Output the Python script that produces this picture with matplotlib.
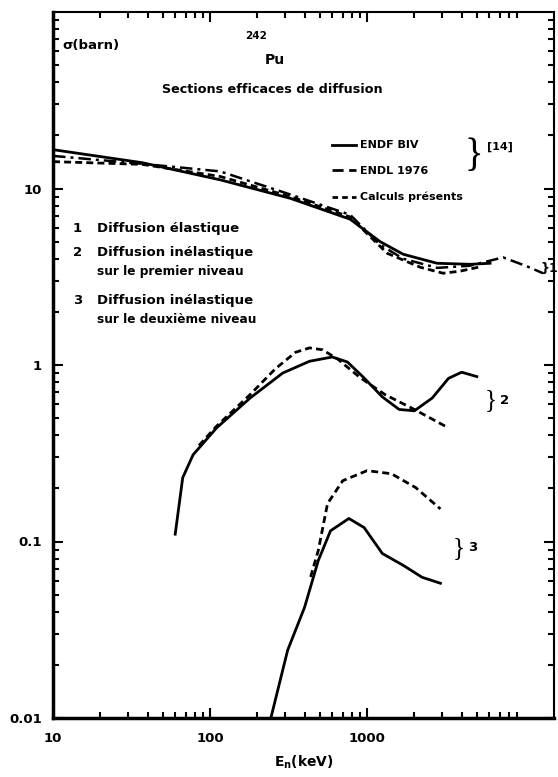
import numpy as np
import matplotlib
matplotlib.use('Agg')
import matplotlib.pyplot as plt
from matplotlib.lines import Line2D
from matplotlib.ticker import FixedLocator, FixedFormatter, LogLocator, NullFormatter

# Elastic scattering (curve 1)
e_el_endf = [10, 37, 116, 324, 780, 1210, 1700, 2790, 4530, 6070]
s_el_endf = [16.6, 14.0, 11.2, 8.8, 6.7, 5.0, 4.24, 3.77, 3.72, 3.77]
e_el_endl = [10, 37, 116, 324, 780, 1210, 1700, 2800, 4500, 7350, 10450, 13200]
s_el_endl = [15.3, 13.8, 12.5, 9.25, 7.1, 4.8, 4.0, 3.55, 3.65, 4.07, 3.62, 3.31]
e_el_calc = [10, 37, 116, 324, 780, 1340, 2180, 3050, 3900, 5250]
s_el_calc = [14.2, 13.7, 11.7, 9.0, 6.9, 4.3, 3.58, 3.31, 3.4, 3.6]

# Inelastic, first level (curve 2)
e_in1_endf = [60, 67, 78, 110, 180, 290, 430, 600, 750, 950, 1250, 1600, 2000, 2600, 3300, 4000, 5000]
s_in1_endf = [0.11, 0.23, 0.31, 0.44, 0.65, 0.90, 1.05, 1.11, 1.04, 0.85, 0.66, 0.56, 0.55, 0.65, 0.84, 0.91, 0.86]
e_in1_calc = [85, 110, 180, 260, 350, 430, 520, 650, 900, 1300, 2000, 3300]
s_in1_calc = [0.35, 0.45, 0.68, 0.95, 1.18, 1.25, 1.22, 1.08, 0.85, 0.68, 0.56, 0.44]

# Inelastic, second level (curve 3)
e_in2_endf = [244, 312, 400, 489, 585, 766, 957, 1251, 1710, 2240, 2930]
s_in2_endf = [0.01, 0.0242, 0.0424, 0.078, 0.115, 0.135, 0.12, 0.0855, 0.073, 0.0627, 0.058]
e_in2_calc = [437, 489, 560, 700, 1000, 1430, 2040, 2930]
s_in2_calc = [0.063, 0.089, 0.164, 0.221, 0.252, 0.242, 0.202, 0.153]

x_ticks = [10, 100, 1000]
x_ticklabels = ['10', '100', '1000']
y_ticks = [0.01, 0.1, 1, 10]
y_ticklabels = ['0.01', '0.1', '1', '10']

plt.rcParams['font.family'] = ['DejaVu Sans']
plt.rcParams['font.weight'] = 'bold'

fig = plt.figure(figsize=(5.58, 7.77), dpi=100)
ax = fig.add_axes([53 / 558, 1 - 718 / 777, 501 / 558, 706 / 777])

solid = dict(color='black', lw=2.0, ls='-')
dashdot = dict(color='black', lw=1.8, ls=(0, (5, 2, 1.2, 2)))
dashed = dict(color='black', lw=2.0, ls=(0, (2.5, 1.5)))

ax.plot(e_el_endf, s_el_endf, **solid)
ax.plot(e_el_endl, s_el_endl, **dashdot)
ax.plot(e_el_calc, s_el_calc, **dashed)
ax.plot(e_in1_endf, s_in1_endf, **solid)
ax.plot(e_in1_calc, s_in1_calc, **dashed)
ax.plot(e_in2_endf, s_in2_endf, **solid)
ax.plot(e_in2_calc, s_in2_calc, **dashed)

ax.set_xscale('log')
ax.set_yscale('log')
ax.set_xlim(10, 15500)
ax.set_ylim(0.01, 100)

ax.xaxis.set_major_locator(FixedLocator(x_ticks))
ax.xaxis.set_major_formatter(FixedFormatter(x_ticklabels))
ax.yaxis.set_major_locator(FixedLocator(y_ticks))
ax.yaxis.set_major_formatter(FixedFormatter(y_ticklabels))
ax.xaxis.set_minor_locator(LogLocator(base=10, subs=np.arange(2, 10)))
ax.yaxis.set_minor_locator(LogLocator(base=10, subs=np.arange(2, 10)))
ax.xaxis.set_minor_formatter(NullFormatter())
ax.yaxis.set_minor_formatter(NullFormatter())
ax.tick_params(which='both', direction='in', top=True, right=True, width=1.5)
ax.tick_params(which='major', length=7, labelsize=9.5)
ax.tick_params(axis='x', which='major', pad=10)
ax.tick_params(axis='y', which='major', pad=8)
ax.tick_params(which='minor', length=4)
for lab in ax.get_xticklabels() + ax.get_yticklabels():
    lab.set_fontweight('bold')

ax.spines['left'].set_linewidth(2.5)
ax.spines['bottom'].set_linewidth(2.5)
ax.spines['top'].set_linewidth(1.5)
ax.spines['right'].set_linewidth(1.5)

ax.set_xlabel('E$_\\mathbf{n}$(keV)', fontsize=10, fontweight='bold', labelpad=6)

tr = ax.transAxes
brace_font = 'Liberation Serif'
ax.text(0.018, 0.953, 'σ(barn)', transform=tr, fontsize=9.5, fontweight='bold', va='center')
ax.text(0.383, 0.966, '242', transform=tr, fontsize=7.5, fontweight='bold', va='center')
ax.text(0.422, 0.932, 'Pu', transform=tr, fontsize=10, fontweight='bold', va='center')
ax.text(0.437, 0.890, 'Sections efficaces de diffusion', transform=tr, fontsize=9.2,
        fontweight='bold', ha='center', va='center')

handles = [Line2D([], [], color='black', lw=2.0, ls='-'),
           Line2D([], [], color='black', lw=2.0, ls=(0, (4, 2))),
           Line2D([], [], color='black', lw=2.0, ls=(0, (2, 1.5)))]
leg = ax.legend(handles, ['ENDF BIV', 'ENDL 1976', 'Calculs présents'],
                loc='upper left', bbox_to_anchor=(0.545, 0.826), frameon=False,
                fontsize=8, handlelength=2.2, handletextpad=0.4, labelspacing=1.42,
                borderpad=0)
for t in leg.get_texts():
    t.set_fontweight('bold')
ax.text(0.822, 0.795, '}', transform=tr, fontsize=28, va='center',
        family=brace_font, fontweight='normal')
ax.text(0.866, 0.809, '[14]', transform=tr, fontsize=8, fontweight='bold', va='center')

ax.text(0.040, 0.694, '1', transform=tr, fontsize=9.5, fontweight='bold', va='center')
ax.text(0.088, 0.694, 'Diffusion élastique', transform=tr, fontsize=9.5, fontweight='bold', va='center')
ax.text(0.040, 0.659, '2', transform=tr, fontsize=9.5, fontweight='bold', va='center')
ax.text(0.088, 0.659, 'Diffusion inélastique', transform=tr, fontsize=9.5, fontweight='bold', va='center')
ax.text(0.088, 0.632, 'sur le premier niveau', transform=tr, fontsize=8.7, fontweight='bold', va='center')
ax.text(0.040, 0.592, '3', transform=tr, fontsize=9.5, fontweight='bold', va='center')
ax.text(0.088, 0.592, 'Diffusion inélastique', transform=tr, fontsize=9.5, fontweight='bold', va='center')
ax.text(0.088, 0.564, 'sur le deuxième niveau', transform=tr, fontsize=8.7, fontweight='bold', va='center')

ax.text(0.972, 0.637, '}1', transform=tr, fontsize=9, fontweight='bold', va='center')
ax.text(0.862, 0.450, '}', transform=tr, fontsize=18, family=brace_font,
        fontweight='normal', va='center')
ax.text(0.893, 0.450, '2', transform=tr, fontsize=9.5, fontweight='bold', va='center')
ax.text(0.797, 0.241, '}', transform=tr, fontsize=18, family=brace_font,
        fontweight='normal', va='center')
ax.text(0.828, 0.241, '3', transform=tr, fontsize=9.5, fontweight='bold', va='center')

plt.savefig('out.png', dpi=100)
